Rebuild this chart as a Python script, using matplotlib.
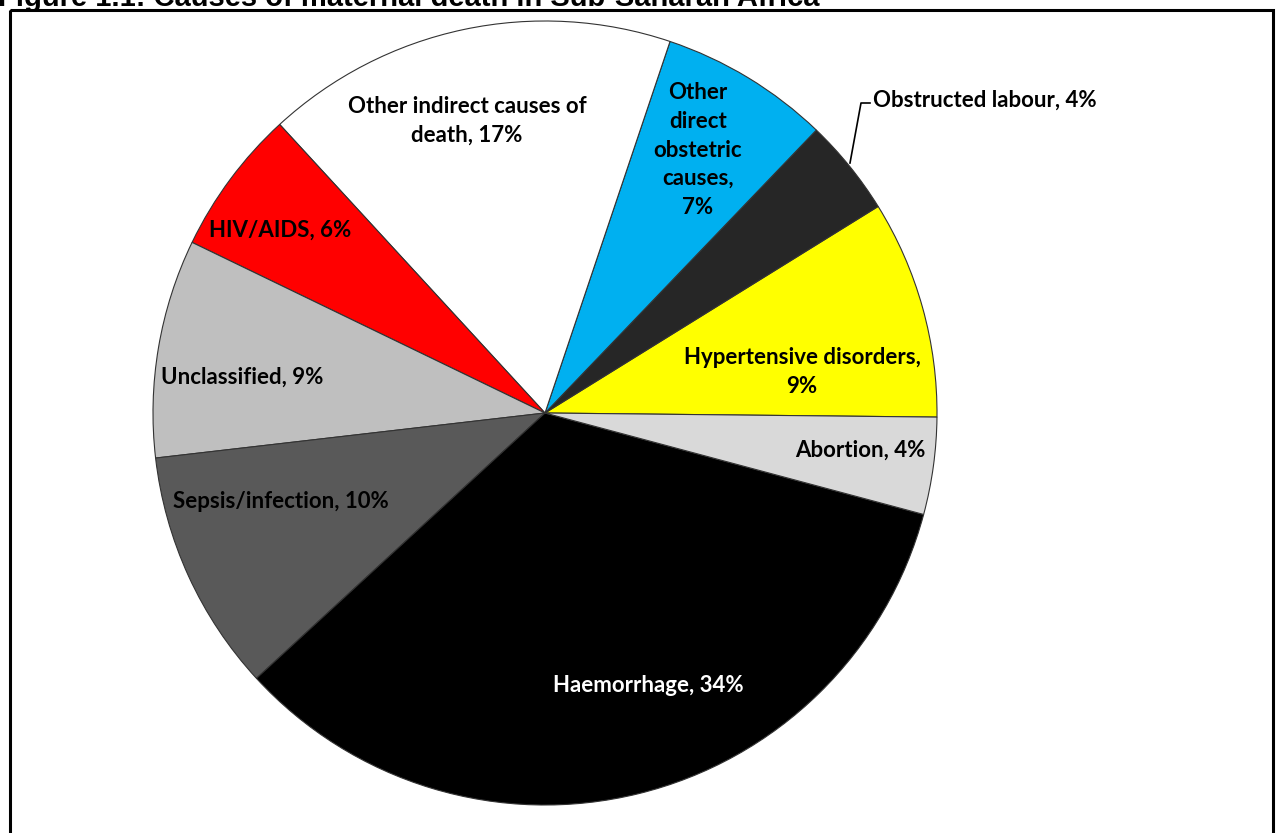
import matplotlib
matplotlib.use("Agg")
import matplotlib.pyplot as plt
from matplotlib.patches import Rectangle

W, H = 1277, 833

categories = ["Hypertensive disorders", "Obstructed labour", "Other direct obstetric causes",
              "Other indirect causes of death", "HIV/AIDS", "Unclassified",
              "Sepsis/infection", "Haemorrhage", "Abortion"]
values = [9, 4, 7, 17, 6, 9, 10, 34, 4]
colors = ["#FFFF00", "#262626", "#00B0F0", "#FFFFFF", "#FF0000", "#BFBFBF",
          "#595959", "#000000", "#D9D9D9"]
label_texts = ["Hypertensive disorders,\n9%", "Obstructed labour, 4%",
               "Other\ndirect\nobstetric\ncauses,\n7%",
               "Other indirect causes of\ndeath, 17%", "HIV/AIDS, 6%",
               "Unclassified, 9%", "Sepsis/infection, 10%", "Haemorrhage, 34%",
               "Abortion, 4%"]
label_colors = ["black", "black", "black", "black", "black", "black", "black",
                "white", "black"]
# label anchor positions in pixels (layout)
label_pos = [(802, 372), (873, 100), (698, 150), (467, 121), (280, 230),
             (242, 377), (281, 502), (648, 685), (860, 450)]
label_ha = ["center", "left", "center", "center", "center", "center", "center",
            "center", "center"]
title = "Figure 1.1: Causes of maternal death in Sub-Saharan Africa"

fig = plt.figure(figsize=(W / 100, H / 100), dpi=100)

cx, cy, r = 545, 413, 392
axp = fig.add_axes([(cx - r) / W, (H - cy - r) / H, 2 * r / W, 2 * r / H])
axp.pie(values, colors=colors, startangle=-0.6, counterclock=True,
        wedgeprops=dict(edgecolor="#333333", linewidth=0.8))
axp.set_xlim(-1, 1)
axp.set_ylim(-1, 1)
axp.set_aspect("equal")
axp.axis("off")

ax = fig.add_axes([0, 0, 1, 1], zorder=5)
ax.set_xlim(0, W)
ax.set_ylim(H, 0)
ax.axis("off")
ax.patch.set_alpha(0)

ax.add_patch(Rectangle((10, 10), 1263, 840, fill=False, edgecolor="black",
                       linewidth=2.2, clip_on=False))
ax.text(-2, 5.5, title, fontsize=21, fontweight="bold", family="Liberation Sans",
        ha="left", va="baseline")

for txt, (x, y), ha, c in zip(label_texts, label_pos, label_ha, label_colors):
    ax.text(x, y, txt, ha=ha, va="center", ma="center", color=c, fontsize=16,
            family="Lato", fontweight="bold", linespacing=1.45)

# leader line for Obstructed labour
ax.plot([870, 861, 850], [103, 103, 163], color="black", linewidth=1.2)

fig.savefig("out.png", dpi=100)
